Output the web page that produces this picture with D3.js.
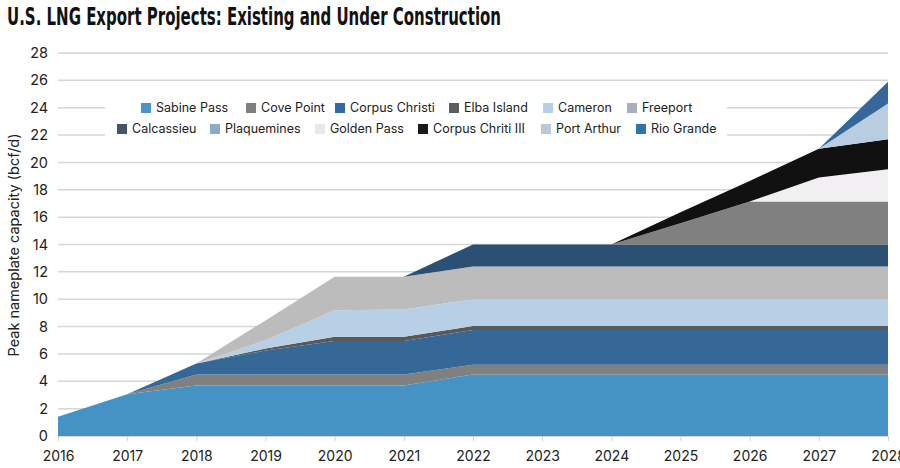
<!DOCTYPE html>
<html>
<head>
<meta charset="utf-8">
<script src="https://cdn.jsdelivr.net/npm/d3@7"></script>
<style>
  html, body { margin: 0; padding: 0; background: #fff; }
  svg { display: block; }
</style>
</head>
<body>
<svg id="chart" width="900" height="468"></svg>
<script>
// ---------- DATA ----------
const years = [2016, 2017, 2018, 2019, 2020, 2021, 2022, 2023, 2024, 2025, 2026, 2027, 2028];
const seriesNames = ["Sabine Pass", "Cove Point", "Corpus Christi", "Elba Island", "Cameron", "Freeport",
                     "Calcassieu", "Plaquemines", "Golden Pass", "Corpus Chriti III", "Port Arthur", "Rio Grande"];
const sabinePass    = [1.4, 3.05, 3.7, 3.7, 3.7, 3.7, 4.5, 4.5, 4.5, 4.5, 4.5, 4.5, 4.5];
const covePoint     = [0, 0, 0.8, 0.8, 0.8, 0.8, 0.7, 0.7, 0.7, 0.7, 0.7, 0.7, 0.7];
const corpusChristi = [0, 0, 0.8, 1.75, 2.45, 2.45, 2.55, 2.55, 2.55, 2.55, 2.55, 2.55, 2.55];
const elbaIsland    = [0, 0, 0, 0.15, 0.3, 0.3, 0.3, 0.3, 0.3, 0.3, 0.3, 0.3, 0.3];
const cameron       = [0, 0, 0, 0.6, 1.95, 2.0, 1.95, 1.95, 1.95, 1.95, 1.95, 1.95, 1.95];
const freeport      = [0, 0, 0, 1.45, 2.45, 2.4, 2.4, 2.4, 2.4, 2.4, 2.4, 2.4, 2.4];
const calcassieu    = [0, 0, 0, 0, 0, 0, 1.6, 1.6, 1.6, 1.6, 1.6, 1.6, 1.6];
const plaquemines   = [0, 0, 0, 0, 0, 0, 0, 0, 0, 1.55, 3.15, 3.15, 3.15];
const goldenPass    = [0, 0, 0, 0, 0, 0, 0, 0, 0, 0, 0, 1.75, 2.35];
const corpusChriti3 = [0, 0, 0, 0, 0, 0, 0, 0, 0, 0.8, 1.5, 2.1, 2.2];
const portArthur    = [0, 0, 0, 0, 0, 0, 0, 0, 0, 0, 0, 0, 2.6];
const rioGrande     = [0, 0, 0, 0, 0, 0, 0, 0, 0, 0, 0, 0, 1.6];
const yTicks = [0, 2, 4, 6, 8, 10, 12, 14, 16, 18, 20, 22, 24, 26, 28];

// ---------- STYLE ----------
const areaColors = ["#4592c4", "#808080", "#356896", "#595959", "#b8d0e6", "#bcbcbc",
                    "#2b5073", "#808080", "#f1eff1", "#111111", "#b8cde0", "#36679a"];
const legendColors = ["#4a93cf", "#7d7f83", "#2f6aa0", "#5a5d60", "#b3cfe6", "#a8afbb",
                      "#44546a", "#8eaacb", "#e8e9eb", "#1a1a1a", "#b8c8d8", "#2e75a8"];
// legend layout: [row, swatch x]
const legendLayout = [[0,141],[0,246],[0,335],[0,449],[0,543],[0,627],
                      [1,117],[1,210],[1,315],[1,418],[1,541],[1,636]];

const FONT = "Inter, 'Noto Sans', sans-serif";

const allSeries = [sabinePass, covePoint, corpusChristi, elbaIsland, cameron, freeport,
                   calcassieu, plaquemines, goldenPass, corpusChriti3, portArthur, rioGrande];
const table = years.map((y, i) => {
  const row = { year: y };
  seriesNames.forEach((n, k) => row[n] = allSeries[k][i]);
  return row;
});

const svg = d3.select("#chart");
const x = d3.scaleLinear().domain([2016, 2028]).range([58, 888]);
const y = d3.scaleLinear().domain([0, 28]).range([436, 53]);

// title
svg.append("text")
  .attr("x", 7).attr("y", 25)
  .attr("font-family", "'Liberation Sans Narrow', 'DejaVu Sans Condensed', sans-serif")
  .attr("font-weight", "bold")
  .attr("font-size", 24)
  .attr("textLength", 494)
  .attr("lengthAdjust", "spacingAndGlyphs")
  .attr("fill", "#111")
  .text("U.S. LNG Export Projects: Existing and Under Construction");

// gridlines
svg.append("g").selectAll("line").data(yTicks).join("line")
  .attr("x1", 58).attr("x2", 888)
  .attr("y1", d => y(d)).attr("y2", d => y(d))
  .attr("stroke", "#d6d6d6").attr("stroke-width", 1.5);

// y axis labels
const yAxis = d3.axisLeft(y).tickValues(yTicks).tickSize(0).tickPadding(10);
const gy = svg.append("g").attr("transform", "translate(58,0)").call(yAxis);
gy.select(".domain").remove();
gy.selectAll("text").attr("font-family", FONT).attr("font-size", 14.5).attr("fill", "#222");

// x axis
const xAxis = d3.axisBottom(x).tickValues(years).tickFormat(d3.format("d")).tickSize(5).tickPadding(10);
const gx = svg.append("g").attr("transform", "translate(0,436)").call(xAxis);
gx.select(".domain").attr("stroke", "#d6d6d6");
gx.selectAll(".tick line").attr("stroke", "#cfcfcf");
gx.selectAll("text").attr("font-family", FONT).attr("font-size", 14).attr("fill", "#222");

// y axis title
svg.append("text")
  .attr("transform", "translate(19,245) rotate(-90)")
  .attr("text-anchor", "middle")
  .attr("font-family", FONT).attr("font-size", 14.5).attr("fill", "#222")
  .text("Peak nameplate capacity (bcf/d)");

// stacked areas
const stack = d3.stack().keys(seriesNames);
const layers = stack(table);
const area = d3.area()
  .x(d => x(d.data.year))
  .y0(d => y(d[0]))
  .y1(d => y(d[1]))
  .curve(d3.curveLinear);
svg.append("g").selectAll("path").data(layers).join("path")
  .attr("d", area)
  .attr("fill", (d, i) => areaColors[i]);

// legend
const lg = svg.append("g");
lg.append("rect").attr("x", 105).attr("y", 96).attr("width", 622).attr("height", 46).attr("fill", "#fff");
const items = lg.selectAll("g.item").data(seriesNames).join("g").attr("class", "item")
  .attr("transform", (d, i) => `translate(${legendLayout[i][1]},${legendLayout[i][0] === 0 ? 108 : 129})`);
items.append("rect").attr("x", 0).attr("y", -5).attr("width", 10).attr("height", 10)
  .attr("fill", (d, i) => legendColors[i]);
items.append("text").attr("x", 15).attr("y", 0).attr("dy", "0.35em")
  .attr("font-family", FONT).attr("font-size", 12.5).attr("fill", "#222")
  .text(d => d);
</script>
</body>
</html>
